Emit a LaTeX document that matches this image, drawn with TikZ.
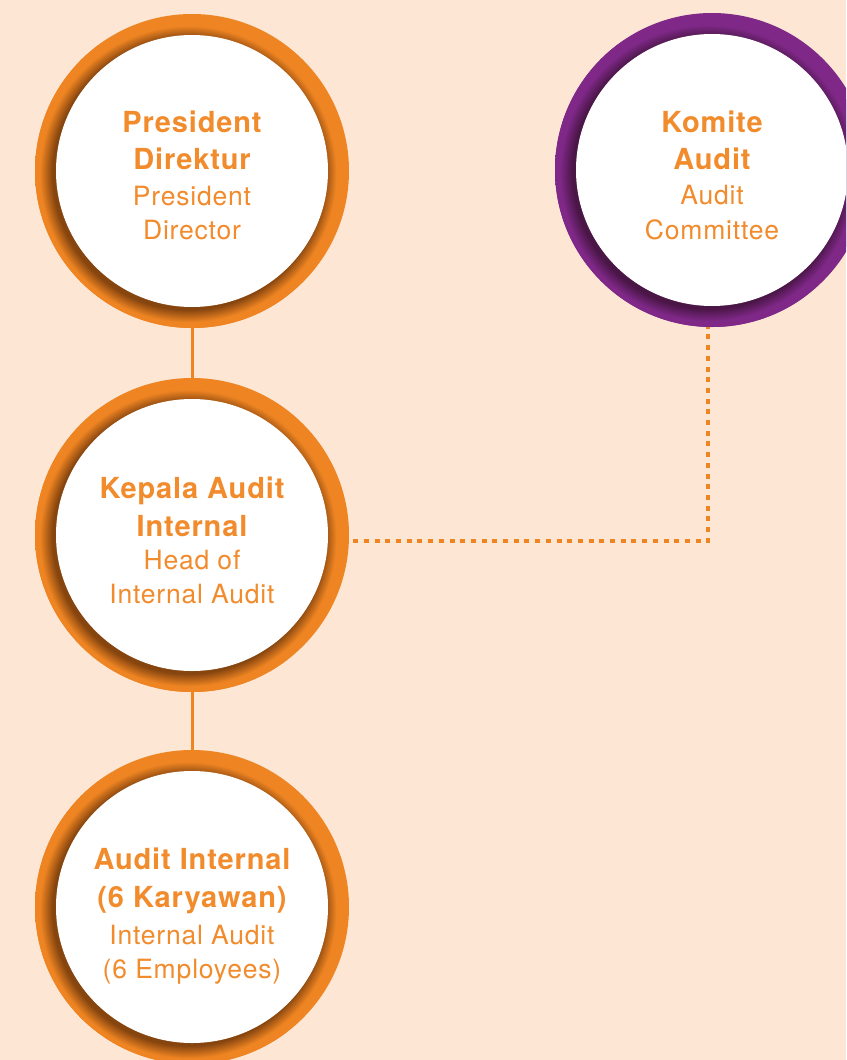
\documentclass[tikz,border=0pt]{standalone}
\usepackage{fontspec}
\setmainfont{TeX Gyre Heros}
\newfontfamily\hfont[LetterSpace=3]{TeX Gyre Heros}
\usetikzlibrary{calc}
\definecolor{bg}{HTML}{FDE6D4}
\definecolor{ringor}{HTML}{EE8422}
\definecolor{ordark}{HTML}{86450F}
\definecolor{ringpu}{HTML}{7F2888}
\definecolor{pudark}{HTML}{4A1646}
\definecolor{txtor}{HTML}{F18B2C}
\pgfdeclareradialshading{orshade}{\pgfpoint{0bp}{0bp}}{color(0bp)=(ordark); color(21.6bp)=(ordark); color(23.6bp)=(ringor); color(50bp)=(ringor)}
\pgfdeclareradialshading{pushade}{\pgfpoint{0bp}{0bp}}{color(0bp)=(pudark); color(21.6bp)=(pudark); color(23.6bp)=(ringpu); color(50bp)=(ringpu)}
\tikzset{
  circnode/.style={circle, minimum size=314pt, inner sep=0pt, draw=none},
  bt/.style={anchor=base, text=txtor, inner sep=0pt, font=\hfont\bfseries\fontsize{29}{32}\selectfont},
  rt/.style={anchor=base, text=txtor, inner sep=0pt, font=\hfont\fontsize{26.5}{29}\selectfont},
  solidcon/.style={draw=ringor, line width=3pt},
  dotcon/.style={draw=ringor, line width=4pt, dash pattern=on 5pt off 5.7pt}
}
\begin{document}
\begin{tikzpicture}[x=1pt,y=-1pt]
\useasboundingbox (0,0) rectangle (846,1060);
\clip (0,0) rectangle (846,1060);
\fill[bg] (0,0) rectangle (846,1060);

% President Direktur
\fill[ringor] (192,171) circle[radius=157pt];
\begin{scope}
  \clip (192,171) circle[radius=157pt];
  \shade[shading=orshade] (188,174) circle[radius=157pt];
\end{scope}
\fill[white] (192,171) circle[radius=136pt];
\node[circnode] (pd) at (192,171) {};

% Komite Audit
\fill[ringpu] (712,170) circle[radius=157pt];
\begin{scope}
  \clip (712,170) circle[radius=157pt];
  \shade[shading=pushade] (708,173) circle[radius=157pt];
\end{scope}
\fill[white] (712,170) circle[radius=136pt];
\node[circnode] (ka) at (712,170) {};

% Kepala Audit Internal
\fill[ringor] (192,535) circle[radius=157pt];
\begin{scope}
  \clip (192,535) circle[radius=157pt];
  \shade[shading=orshade] (188,538) circle[radius=157pt];
\end{scope}
\fill[white] (192,535) circle[radius=136pt];
\node[circnode] (kai) at (192,535) {};

% Audit Internal
\fill[ringor] (192,907) circle[radius=157pt];
\begin{scope}
  \clip (192,907) circle[radius=157pt];
  \shade[shading=orshade] (188,910) circle[radius=157pt];
\end{scope}
\fill[white] (192,907) circle[radius=136pt];
\node[circnode] (ai) at (192,907) {};

% connectors
\draw[solidcon] (pd.south) -- (kai.north);
\draw[solidcon] (kai.south) -- (ai.north);
\draw[dotcon] ($(kai.east)+(4,6)$) -| ($(ka.south)+(-4,0)$);

% texts
\node[bt] (pd1) at (192,132) {President};
\node[bt] (pd2) at (192,169) {Direktur};
\node[rt] (pd3) at (192,205) {President};
\node[rt] (pd4) at (192,239) {Director};

\node[bt] (ka1) at (712,132) {Komite};
\node[bt] (ka2) at (712,169) {Audit};
\node[rt] (ka3) at (712,204) {Audit};
\node[rt] (ka4) at (712,239) {Committee};

\node[bt] (kai1) at (192,498) {Kepala Audit};
\node[bt] (kai2) at (192,536) {Internal};
\node[rt] (kai3) at (192,569) {Head of};
\node[rt] (kai4) at (192,603) {Internal Audit};

\node[bt] (ai1) at (192,869) {Audit Internal};
\node[bt] (ai2) at (192,907) {(6 Karyawan)};
\node[rt] (ai3) at (192,944) {Internal Audit};
\node[rt] (ai4) at (192,978) {(6 Employees)};
\end{tikzpicture}
\end{document}
